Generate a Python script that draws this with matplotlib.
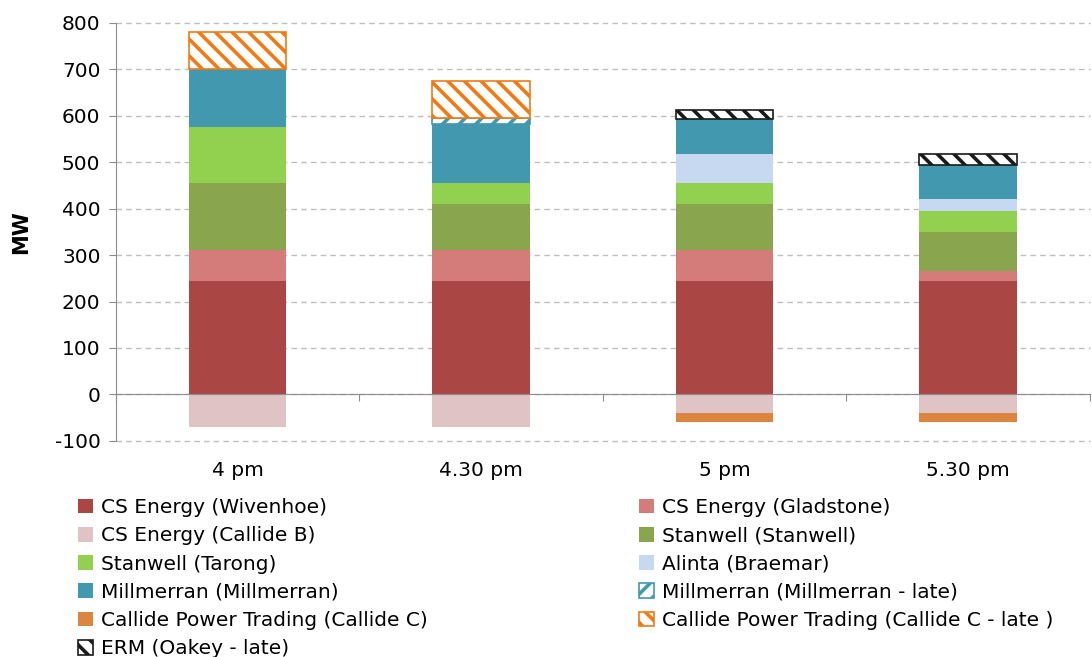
import matplotlib
matplotlib.use("Agg")
import matplotlib.pyplot as plt
from matplotlib.patches import Patch
from matplotlib.ticker import FixedLocator, FixedFormatter, MultipleLocator

# Dispatch by participant, MW, per half-hour interval
categories = ["4 pm", "4.30 pm", "5 pm", "5.30 pm"]
wivenhoe = [245, 245, 245, 245]
gladstone = [65, 65, 65, 20]
stanwell = [145, 100, 100, 85]
tarong = [120, 45, 45, 45]
alinta = [0, 0, 62, 25]
millmerran = [125, 128, 76, 75]
millmerran_late = [0, 12, 0, 0]
callide_c_late = [80, 80, 0, 0]
erm_late = [0, 0, 20, 22]
callide_b = [-70, -70, -40, -40]
callide_c = [0, 0, -20, -20]

plt.rcParams["font.family"] = ["DejaVu Sans"]
plt.rcParams["hatch.linewidth"] = 2.6
plt.rcParams["axes.unicode_minus"] = False

fig = plt.figure(figsize=(10.92, 6.57), dpi=100)
ax = fig.add_axes([0.106, 0.329, 0.892, 0.636])

x = list(range(len(categories)))
width = 0.40

# (label, values, face, hatch, hatch/edge colour)
positive = [
    ("CS Energy (Wivenhoe)", wivenhoe, "#AA4644", None, None),
    ("CS Energy (Gladstone)", gladstone, "#D47C79", None, None),
    ("Stanwell (Stanwell)", stanwell, "#89A54E", None, None),
    ("Stanwell (Tarong)", tarong, "#92D050", None, None),
    ("Alinta (Braemar)", alinta, "#C6D9F1", None, None),
    ("Millmerran (Millmerran)", millmerran, "#4198AF", None, None),
    ("Millmerran (Millmerran - late)", millmerran_late, "white", "//", "#4198AF"),
    ("Callide Power Trading (Callide C - late )", callide_c_late, "white", "\\\\", "#F07A14"),
    ("ERM (Oakey - late)", erm_late, "white", "\\\\", "#1A1A1A"),
]
negative = [
    ("CS Energy (Callide B)", callide_b, "#E0C3C4", None, None),
    ("Callide Power Trading (Callide C)", callide_c, "#DC853E", None, None),
]

handles = {}

def draw_stack(series, start):
    base = list(start)
    for label, vals, face, hatch, ec in series:
        # only draw non-empty segments so outlined bars leave no stray edges
        idx = [i for i, v in enumerate(vals) if v != 0]
        xs = [x[i] for i in idx]
        hs = [vals[i] for i in idx]
        bs = [base[i] for i in idx]
        if hatch:
            ax.bar(xs, hs, width, bottom=bs, facecolor=face, edgecolor=ec,
                   hatch=hatch, linewidth=1.2, zorder=3)
            handles[label] = Patch(facecolor=face, edgecolor=ec, hatch=hatch,
                                   linewidth=1.2)
        else:
            ax.bar(xs, hs, width, bottom=bs, color=face, linewidth=0, zorder=3)
            handles[label] = Patch(facecolor=face, edgecolor="none")
        base = [b + v for b, v in zip(base, vals)]

draw_stack(positive, [0] * len(x))
draw_stack(negative, [0] * len(x))

ax.set_xlim(-0.5, len(categories) - 0.5)
ax.set_ylim(-100, 800)
ax.yaxis.set_major_locator(MultipleLocator(100))

ax.grid(axis="y", color="#BFBFBF", linestyle=(0, (4, 3)), linewidth=1, zorder=0)
ax.set_axisbelow(True)
for gl in ax.get_ygridlines():
    gl.set_clip_on(False)

for s in ("top", "right"):
    ax.spines[s].set_visible(False)
ax.spines["left"].set_color("#8C8C8C")
ax.spines["bottom"].set_color("#8C8C8C")
ax.spines["bottom"].set_position(("data", 0))
ax.spines["bottom"].set_zorder(4)

# Boundary ticks on the zero line, category labels below the plot
ax.xaxis.set_major_locator(FixedLocator([i - 0.5 for i in range(len(categories) + 1)]))
ax.xaxis.set_major_formatter(FixedFormatter([""] * (len(categories) + 1)))
ax.xaxis.set_minor_locator(FixedLocator(x))
ax.xaxis.set_minor_formatter(FixedFormatter(categories))
ax.tick_params(axis="x", which="major", direction="out", length=5, color="#8C8C8C")
ax.tick_params(axis="x", which="minor", length=0, pad=48, labelsize=14.5)
ax.tick_params(axis="y", direction="out", length=5, color="#8C8C8C", labelsize=14.5, pad=6)

ax.set_ylabel("MW", fontsize=15, fontweight="bold", labelpad=17)

col1 = ["CS Energy (Wivenhoe)", "CS Energy (Callide B)", "Stanwell (Tarong)",
        "Millmerran (Millmerran)", "Callide Power Trading (Callide C)", "ERM (Oakey - late)"]
col2 = ["CS Energy (Gladstone)", "Stanwell (Stanwell)", "Alinta (Braemar)",
        "Millmerran (Millmerran - late)", "Callide Power Trading (Callide C - late )"]

common = dict(frameon=False, fontsize=14.5, handlelength=0.75, handleheight=0.75,
              handletextpad=0.4, labelspacing=0.46, loc="upper left",
              borderaxespad=0, borderpad=0)
leg1 = fig.legend([handles[k] for k in col1], col1,
                  bbox_to_anchor=(78 / 1092, 1 - 498 / 657), **common)
leg2 = fig.legend([handles[k] for k in col2], col2,
                  bbox_to_anchor=(639 / 1092, 1 - 498 / 657), **common)

fig.savefig("out.png", dpi=100)
